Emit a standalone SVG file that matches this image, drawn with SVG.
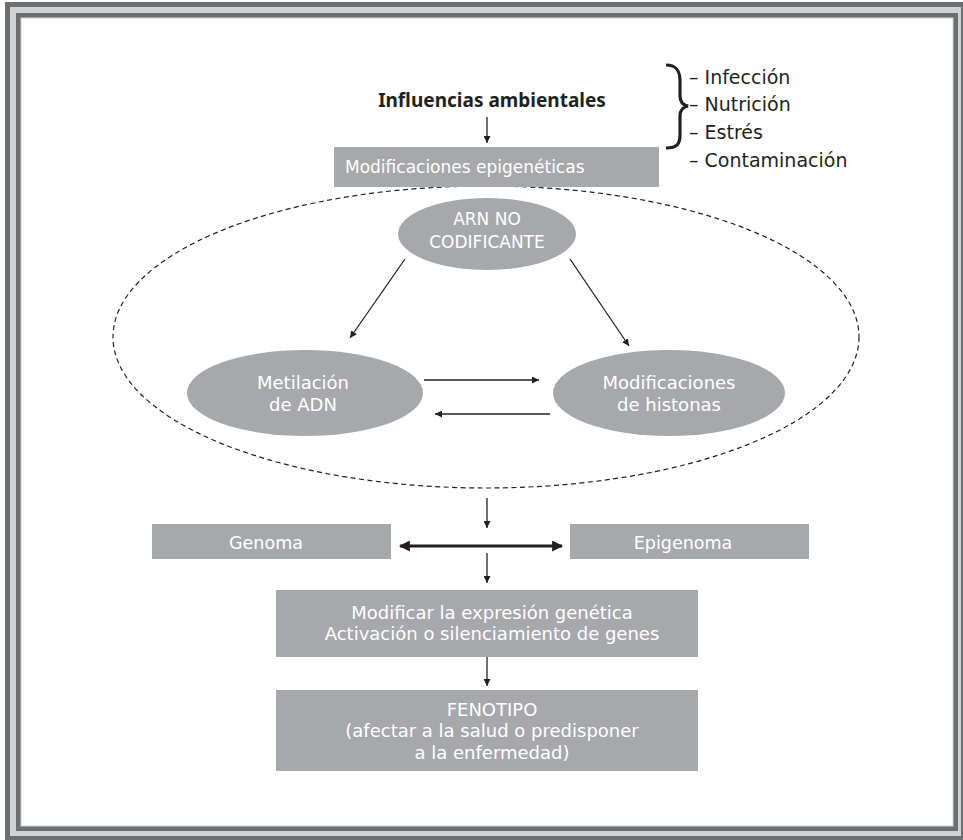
<svg xmlns="http://www.w3.org/2000/svg" width="963" height="840" viewBox="0 0 963 840">
<defs>
<style>
.box{fill:#a7a8ab}
.wt{fill:#ffffff;font-family:"DejaVu Sans","Noto Sans",sans-serif;font-size:18px;text-anchor:middle}
.dk{fill:#231f20;font-family:"DejaVu Sans","Noto Sans",sans-serif;font-size:19px}
.ln{stroke:#231f20;stroke-width:1.3;fill:none}
</style>
<marker id="ah" viewBox="0 0 10 10" refX="10" refY="5" markerWidth="7" markerHeight="7" markerUnits="userSpaceOnUse" orient="auto"><path d="M0,0 L10,5 L0,10 Z" fill="#231f20"/></marker>
<marker id="ahb" viewBox="0 0 10 10" refX="9" refY="5" markerWidth="14" markerHeight="11" markerUnits="userSpaceOnUse" orient="auto-start-reverse"><path d="M0,0 L10,5 L0,10 Z" fill="#231f20"/></marker>
</defs>
<rect width="963" height="840" fill="#ffffff"/>
<g id="frame">
<rect x="5" y="2" width="958" height="838" fill="#6d6e71"/>
<rect x="10" y="7" width="951" height="829" fill="#d1d2d4"/>
<rect x="16" y="13" width="942" height="818" fill="#6d6e71"/>
<rect x="21" y="18" width="932" height="808" fill="#ffffff" stroke="#d1d2d4" stroke-width="1"/>
</g>
<g id="connectors">
<ellipse cx="486" cy="337" rx="373" ry="151" fill="none" stroke="#231f20" stroke-width="1.2" stroke-dasharray="5 3.5"/>
<line class="ln" x1="487" y1="117" x2="487" y2="143" marker-end="url(#ah)"/>
<line class="ln" x1="405" y1="259" x2="350" y2="338" marker-end="url(#ah)"/>
<line class="ln" x1="570" y1="259" x2="629" y2="346" marker-end="url(#ah)"/>
<line class="ln" x1="424" y1="380" x2="539" y2="380" marker-end="url(#ah)"/>
<line class="ln" x1="550" y1="414" x2="435" y2="414" marker-end="url(#ah)"/>
<line class="ln" x1="487" y1="498" x2="487" y2="528" marker-end="url(#ah)"/>
<line x1="400" y1="546" x2="562" y2="546" stroke="#231f20" stroke-width="3" marker-start="url(#ahb)" marker-end="url(#ahb)"/>
<line class="ln" x1="487" y1="553" x2="487" y2="583" marker-end="url(#ah)"/>
<line class="ln" x1="487" y1="657" x2="487" y2="686" marker-end="url(#ah)"/>
</g>
<g id="influencias">
<text x="492" y="107" font-family="Noto Sans, DejaVu Sans, sans-serif" font-weight="bold" font-size="19" fill="#231f20" text-anchor="middle">Influencias ambientales</text>
</g>
<g id="factores">
<path d="M666,65 C677,65 680,71 680,81 L680,96 C680,102 683,105 688,106 C683,107 680,110 680,116 L680,135 C680,144 677,148 666,148" fill="none" stroke="#231f20" stroke-width="3.2"/>
<text class="dk" x="689" y="84">– Infección</text>
<text class="dk" x="689" y="111">– Nutrición</text>
<text class="dk" x="689" y="139">– Estrés</text>
<text class="dk" x="689" y="167">– Contaminación</text>
</g>
<g id="modificaciones">
<rect class="box" x="334" y="147" width="325" height="40"/>
<text class="wt" x="345" y="173" style="text-anchor:start;font-size:17px">Modificaciones epigenéticas</text>
</g>
<g id="arn">
<ellipse class="box" cx="487" cy="234" rx="89" ry="36"/>
<text class="wt" x="487" y="225" style="font-size:17px">ARN NO</text>
<text class="wt" x="487" y="248" style="font-size:17px">CODIFICANTE</text>
</g>
<g id="metilacion">
<ellipse class="box" cx="305" cy="393" rx="118" ry="43"/>
<text class="wt" x="303" y="389">Metilación</text>
<text class="wt" x="303" y="411">de ADN</text>
</g>
<g id="histonas">
<ellipse class="box" cx="669" cy="393" rx="116" ry="43"/>
<text class="wt" x="669" y="389">Modificaciones</text>
<text class="wt" x="669" y="411">de histonas</text>
</g>
<g id="genoma">
<rect class="box" x="152" y="524" width="239" height="35"/>
<text class="wt" x="266" y="549" style="font-size:17.5px">Genoma</text>
</g>
<g id="epigenoma">
<rect class="box" x="570" y="524" width="239" height="35"/>
<text class="wt" x="683" y="549" style="font-size:17.5px">Epigenoma</text>
</g>
<g id="expresion">
<rect class="box" x="276" y="590" width="422" height="67"/>
<text class="wt" x="492" y="619">Modificar la expresión genética</text>
<text class="wt" x="492" y="640">Activación o silenciamiento de genes</text>
</g>
<g id="fenotipo">
<rect class="box" x="276" y="690" width="422" height="81"/>
<text class="wt" x="492" y="716">FENOTIPO</text>
<text class="wt" x="492" y="737">(afectar a la salud o predisponer</text>
<text class="wt" x="492" y="759">a la enfermedad)</text>
</g>
</svg>
